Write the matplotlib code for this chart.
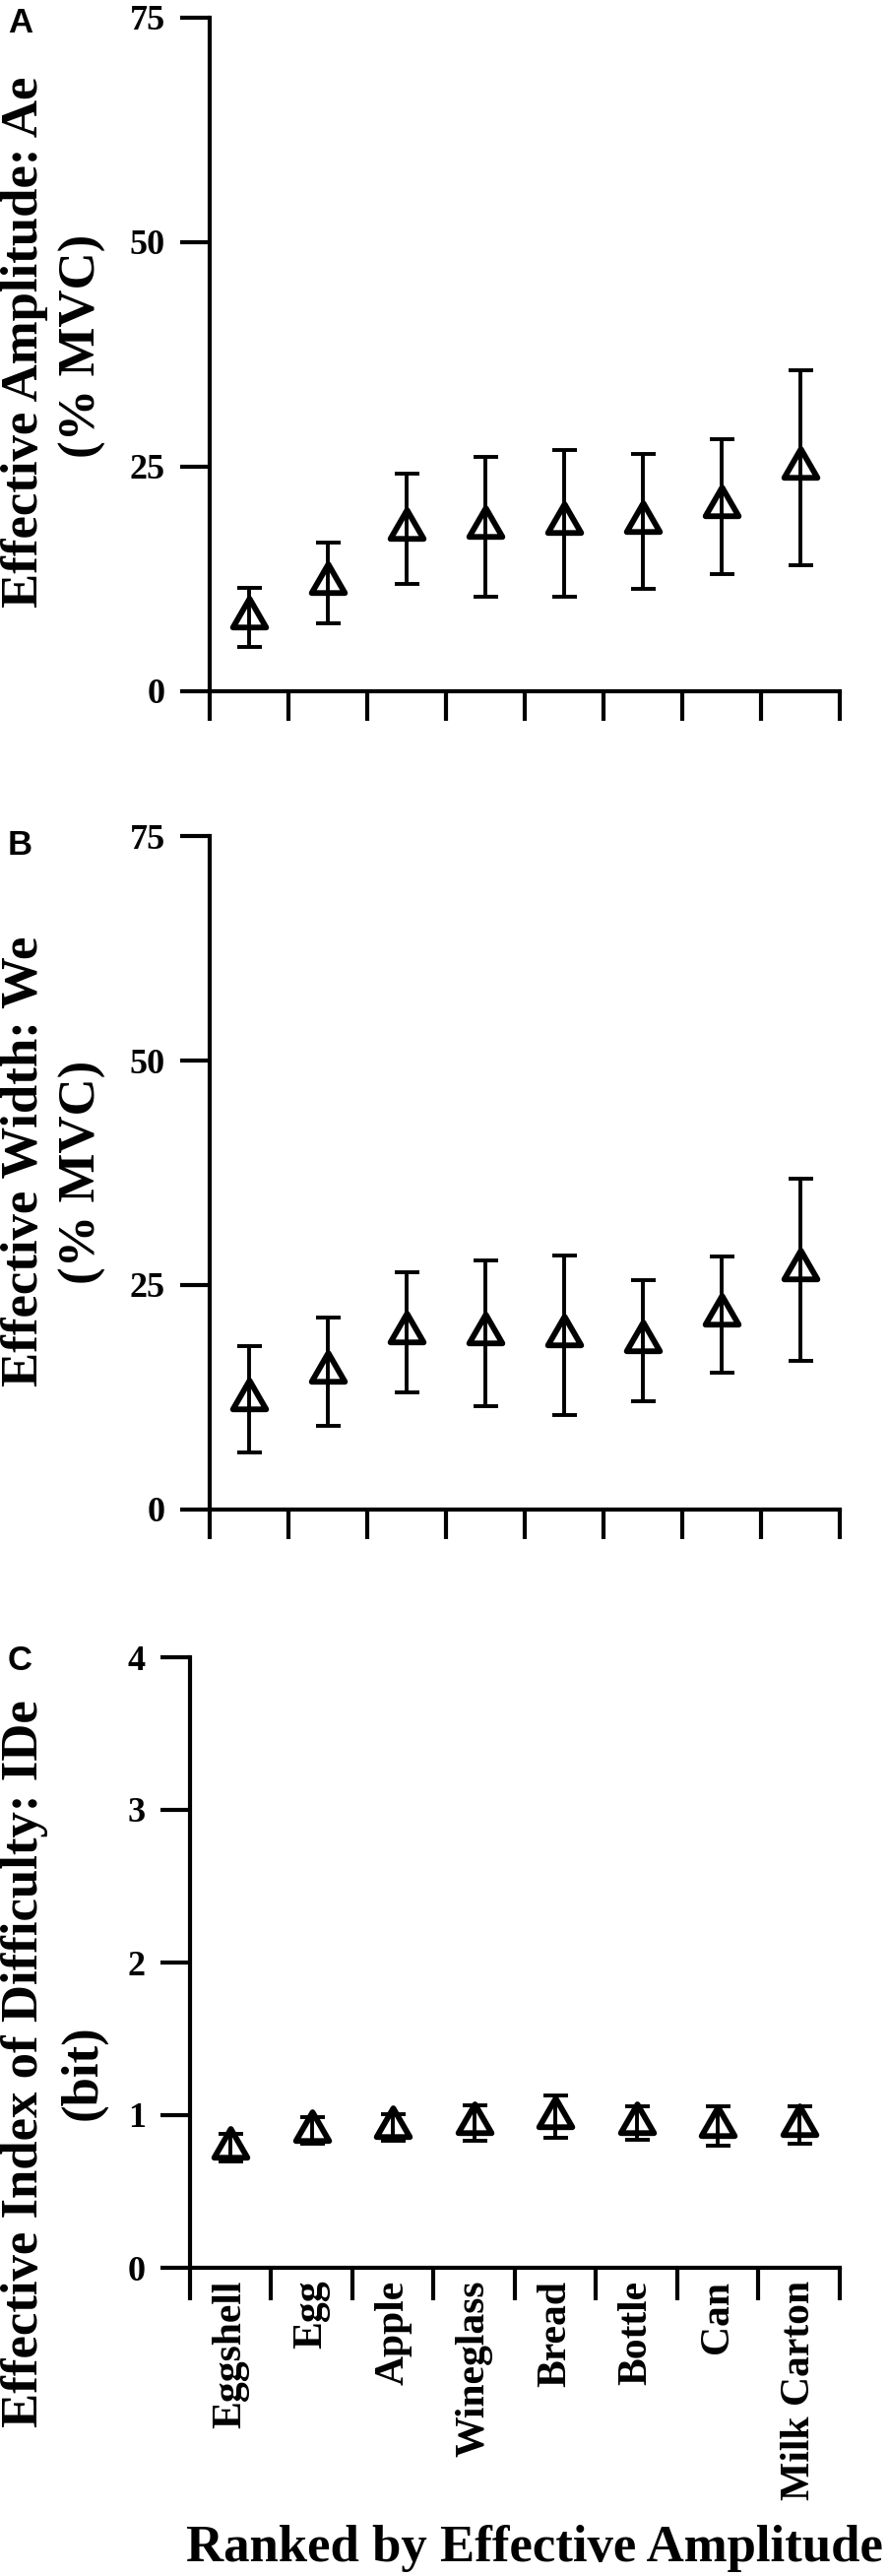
import matplotlib
matplotlib.use('Agg')
import matplotlib.pyplot as plt
import numpy as np
from matplotlib.markers import MarkerStyle
from matplotlib.path import Path

# objects ranked by effective amplitude
categories = ['Eggshell', 'Egg', 'Apple', 'Wineglass', 'Bread', 'Bottle', 'Can', 'Milk Carton']

# A: effective amplitude (% MVC), mean and SD
ae_mean = [8.2, 12.1, 18.1, 18.3, 18.7, 18.9, 20.6, 24.9]
ae_sd = [3.3, 4.5, 6.1, 7.8, 8.2, 7.5, 7.5, 10.9]

# B: effective width (% MVC)
we_mean = [12.25, 15.35, 19.7, 19.6, 19.4, 18.8, 21.7, 26.7]
we_sd = [5.9, 6.0, 6.7, 8.1, 8.9, 6.7, 6.5, 10.1]

# C: effective index of difficulty (bit)
ide_mean = [0.79, 0.90, 0.92, 0.95, 0.99, 0.95, 0.93, 0.935]
ide_sd = [0.09, 0.09, 0.085, 0.117, 0.139, 0.111, 0.131, 0.121]

plt.rcParams['font.family'] = ['Liberation Serif', 'DejaVu Serif']
plt.rcParams['font.weight'] = 'bold'

W, H = 904, 2616
fig = plt.figure(figsize=(W / 100, H / 100), dpi=100)

# open triangle, equilateral, centred on its centroid
tri_path = Path([(0, 0.577), (-0.5, -0.289), (0.5, -0.289), (0, 0.577)], closed=True)
tri = MarkerStyle(tri_path, joinstyle='round')

LW = 3.0


def axes_px(left, top, right, bottom):
    return fig.add_axes([left / W, 1 - bottom / H, (right - left) / W, (bottom - top) / H])


def panel(ax, mean, sd, ymax, yticks, show_names, xtick_len):
    x = np.arange(len(categories))
    ax.errorbar(x, mean, yerr=sd, fmt='none', ecolor='black', elinewidth=2.8,
                capsize=9, capthick=2.8, clip_on=False)
    ax.plot(x, mean, linestyle='none', marker=tri, markersize=28,
            markerfacecolor='none', markeredgecolor='black', markeredgewidth=4.2, clip_on=False)
    ax.set_xlim(-0.5, len(categories) - 0.5)
    ax.set_ylim(0, ymax)
    for s in ['top', 'right']:
        ax.spines[s].set_visible(False)
    for s in ['left', 'bottom']:
        ax.spines[s].set_linewidth(LW)
        ax.spines[s].set_capstyle('projecting')
    ax.set_yticks(yticks)
    ax.tick_params(axis='y', length=21.6, width=LW, pad=11, labelsize=26)
    ax.set_xticks(x)
    if show_names:
        ax.set_xticklabels(categories, rotation=90, fontsize=30)
    else:
        ax.set_xticklabels([])
    ax.tick_params(axis='x', which='major', length=0, pad=9)
    ax.set_xticks(np.arange(-0.5, len(categories), 1), minor=True)
    ax.tick_params(axis='x', which='minor', length=xtick_len, width=LW, direction='out')


axA = axes_px(213, 18, 853, 702)
panel(axA, ae_mean, ae_sd, 75, [0, 25, 50, 75], False, 21.6)

axB = axes_px(213, 849, 853, 1533)
panel(axB, we_mean, we_sd, 75, [0, 25, 50, 75], False, 21.6)

axC = axes_px(193, 1683, 853, 2303)
panel(axC, ide_mean, ide_sd, 4, [0, 1, 2, 3, 4], True, 23.8)

# y axis titles, two lines each, placed one by one
ylab = [('Effective Amplitude: Ae', 347, '(% MVC)', 351),
        ('Effective Width: We', 1179, '(% MVC)', 1190),
        ('Effective Index of Difficulty: IDe', 2096, '(bit)', 2105)]
for line1, y1, line2, y2 in ylab:
    fig.text(25 / W, 1 - y1 / H, line1, rotation=90, ha='center', va='center', fontsize=38)
    fig.text(84 / W, 1 - y2 / H, line2, rotation=90, ha='center', va='center', fontsize=38)

fig.text(543 / W, 1 - 2601 / H, 'Ranked by Effective Amplitude', ha='center',
         va='baseline', fontsize=38)

# panel letters
for letter, top in [('A', 7), ('B', 842), ('C', 1670)]:
    fig.text(8 / W, 1 - top / H, letter, ha='left', va='top', fontsize=25,
             family=['Liberation Sans', 'DejaVu Sans'], weight='bold')

fig.savefig('out.png', dpi=100)
